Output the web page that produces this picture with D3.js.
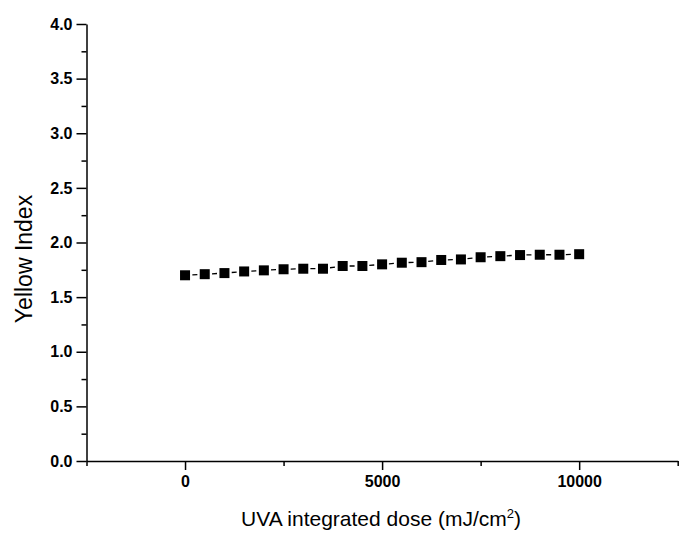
<!DOCTYPE html>
<html>
<head>
<meta charset="utf-8">
<script src="https://cdn.jsdelivr.net/npm/d3@7"></script>
<style>
  body { margin: 0; background: #fff; }
  svg { display: block; font-family: "Liberation Sans", Arial, sans-serif; }
  .tick text { font-weight: bold; font-size: 16px; fill: #000; }
  .domain, .tick line { stroke: #000; stroke-width: 1.5px; }
</style>
</head>
<body>
<div id="chart"></div>
<script>
// data: UVA dose (mJ/cm2) vs Yellow Index
const doses = [0, 500, 1000, 1500, 2000, 2500, 3000, 3500, 4000, 4500, 5000,
               5500, 6000, 6500, 7000, 7500, 8000, 8500, 9000, 9500, 10000];
const yellowIndex = [1.70, 1.71, 1.72, 1.735, 1.745, 1.755, 1.76, 1.76, 1.785, 1.785, 1.80,
                     1.815, 1.82, 1.84, 1.845, 1.865, 1.875, 1.885, 1.888, 1.888, 1.893];
const xMajorTicks = [0, 5000, 10000];
const xMinorTicks = [-2500, 2500, 7500, 12500];
const yMajorTicks = [0, 0.5, 1.0, 1.5, 2.0, 2.5, 3.0, 3.5, 4.0];
const yMinorTicks = [0.25, 0.75, 1.25, 1.75, 2.25, 2.75, 3.25, 3.75];

const width = 679, height = 536;
const plot = {left: 86.5, right: 677.7, top: 24, bottom: 461};

const svg = d3.select("#chart").append("svg")
    .attr("width", width)
    .attr("height", height);

const x = d3.scaleLinear().domain([-2500, 12500]).range([plot.left, plot.right]);
const y = d3.scaleLinear().domain([0, 4]).range([plot.bottom, plot.top]);

// x axis
svg.append("g")
    .attr("transform", `translate(0,${plot.bottom})`)
    .call(d3.axisBottom(x).tickValues(xMinorTicks).tickSize(5).tickSizeOuter(0).tickFormat(""));
svg.append("g")
    .attr("transform", `translate(0,${plot.bottom})`)
    .call(d3.axisBottom(x).tickValues(xMajorTicks).tickSize(9).tickSizeOuter(0).tickPadding(6)
        .tickFormat(d3.format("d")))
    .call(g => g.select(".domain").remove());

// y axis
svg.append("g")
    .attr("transform", `translate(${plot.left},0)`)
    .call(d3.axisLeft(y).tickValues(yMinorTicks).tickSize(5).tickSizeOuter(0).tickFormat(""));
svg.append("g")
    .attr("transform", `translate(${plot.left},0)`)
    .call(d3.axisLeft(y).tickValues(yMajorTicks).tickSize(10).tickSizeOuter(0).tickPadding(4)
        .tickFormat(d3.format(".1f")))
    .call(g => g.select(".domain").remove());

// axis titles
svg.append("text")
    .attr("x", (240 + 522) / 2)
    .attr("y", 526)
    .attr("text-anchor", "middle")
    .style("font-size", "21px")
    .text("UVA integrated dose (mJ/cm")
    .append("tspan")
    .attr("dy", -8)
    .style("font-size", "13px")
    .text("2")
    .clone(true)
    .attr("dy", 8)
    .style("font-size", "21px")
    .text(")");

svg.append("text")
    .attr("transform", `translate(32,259) rotate(-90)`)
    .attr("text-anchor", "middle")
    .style("font-size", "23px")
    .text("Yellow Index");

// dashed connecting line
const pts = doses.map((d, i) => [d, yellowIndex[i]]);
const line = d3.line().x(d => x(d[0])).y(d => y(d[1]));

svg.append("path")
    .datum(pts)
    .attr("d", line)
    .attr("fill", "none")
    .attr("stroke", "#000")
    .attr("stroke-width", 1.3)
    .attr("stroke-dasharray", "5 4.85")
    .attr("stroke-dashoffset", 2.5);

// square markers
const size = 10;
svg.append("g")
    .selectAll("rect")
    .data(pts)
    .join("rect")
    .attr("x", d => x(d[0]) - size / 2)
    .attr("y", d => y(d[1]) - size / 2)
    .attr("width", size)
    .attr("height", size)
    .attr("fill", "#000");
</script>
</body>
</html>
